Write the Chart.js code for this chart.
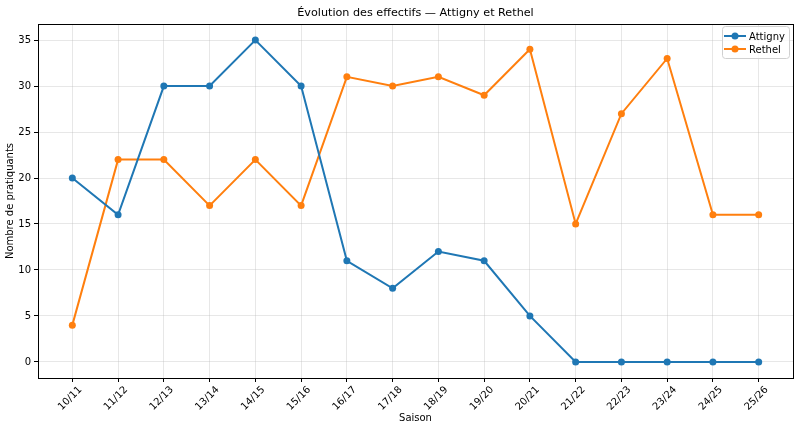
<!DOCTYPE html>
<html>
<head>
<meta charset="utf-8">
<script src="https://cdn.jsdelivr.net/npm/chart.js@4"></script>
<style>
    html, body { margin: 0; padding: 0; background: #fff; }
    #wrap { width: 799px; height: 430px; }
</style>
</head>
<body>
<div id="wrap"><canvas id="chart" width="799" height="430"></canvas></div>
<script>
    // Données
    const saisons = ['10/11', '11/12', '12/13', '13/14', '14/15', '15/16', '16/17', '17/18',
                     '18/19', '19/20', '20/21', '21/22', '22/23', '23/24', '24/25', '25/26'];
    const attigny = [20, 16, 30, 30, 35, 30, 11, 8, 12, 11, 5, 0, 0, 0, 0, 0];
    const rethel = [4, 22, 22, 17, 22, 17, 31, 30, 31, 29, 34, 15, 27, 33, 16, 16];
    const yTicks = [0, 5, 10, 15, 20, 25, 30, 35];

    const FONT = "'DejaVu Sans', sans-serif";

    function toPoints(values) {
        return values.map((v, i) => ({ x: i, y: v }));
    }

    // Cadre, titre et légende façon matplotlib
    const decor = {
        id: 'decor',
        afterDraw(chart) {
            const ctx = chart.ctx;
            const a = chart.chartArea;
            ctx.save();
            ctx.strokeStyle = '#000';
            ctx.lineWidth = 1;
            ctx.strokeRect(Math.round(a.left) + 0.5, Math.round(a.top) + 0.5,
                           Math.round(a.right - a.left), Math.round(a.bottom - a.top));

            // Titre
            ctx.fillStyle = '#000';
            ctx.font = '11.2px ' + FONT;
            ctx.textAlign = 'center';
            ctx.textBaseline = 'middle';
            ctx.fillText('Évolution des effectifs — Attigny et Rethel', (a.left + a.right) / 2, 13);

            // Légende
            const sets = chart.data.datasets;
            const boxW = 67, rowH = 13;
            const bx = a.right - boxW - 4, by = a.top + 2;
            const boxH = sets.length * rowH + 6;
            ctx.fillStyle = 'rgba(255,255,255,0.8)';
            ctx.strokeStyle = '#d0d0d0';
            ctx.lineWidth = 1;
            ctx.beginPath();
            ctx.roundRect(bx + 0.5, by + 0.5, boxW, boxH, 3);
            ctx.fill();
            ctx.stroke();
            ctx.font = '10px ' + FONT;
            ctx.textAlign = 'left';
            sets.forEach((ds, i) => {
                const cy = by + 10 + i * rowH;
                ctx.strokeStyle = ds.borderColor;
                ctx.lineWidth = 2;
                ctx.beginPath();
                ctx.moveTo(bx + 2, cy);
                ctx.lineTo(bx + 24, cy);
                ctx.stroke();
                ctx.fillStyle = ds.borderColor;
                ctx.beginPath();
                ctx.arc(bx + 13, cy, 3.5, 0, Math.PI * 2);
                ctx.fill();
                ctx.fillStyle = '#000';
                ctx.fillText(ds.label, bx + 27, cy + 1);
            });
            ctx.restore();
        }
    };

    new Chart(document.getElementById('chart'), {
        type: 'line',
        data: {
            datasets: [
                {
                    label: 'Attigny',
                    data: toPoints(attigny),
                    borderColor: '#1f77b4',
                    backgroundColor: '#1f77b4',
                    borderWidth: 2,
                    pointRadius: 3.5,
                    pointHoverRadius: 3.5,
                    pointBorderWidth: 0,
                    tension: 0
                },
                {
                    label: 'Rethel',
                    data: toPoints(rethel),
                    borderColor: '#ff7f0e',
                    backgroundColor: '#ff7f0e',
                    borderWidth: 2,
                    pointRadius: 3.5,
                    pointHoverRadius: 3.5,
                    pointBorderWidth: 0,
                    tension: 0
                }
            ]
        },
        options: {
            responsive: false,
            animation: false,
            layout: { padding: { top: 24, right: 6, left: 0, bottom: 0 } },
            plugins: {
                legend: { display: false },
                title: { display: false },
                tooltip: { enabled: false }
            },
            scales: {
                x: {
                    type: 'linear',
                    min: -0.75,
                    max: saisons.length - 0.25,
                    afterBuildTicks(scale) {
                        scale.ticks = saisons.map((s, i) => ({ value: i }));
                    },
                    afterFit(scale) { scale.height = 52; },
                    grid: {
                        color: 'rgba(176,176,176,0.3)',
                        tickColor: '#000',
                        tickLength: 4,
                        lineWidth: 1
                    },
                    border: { color: '#000', width: 1 },
                    ticks: {
                        callback: (v) => saisons[v],
                        minRotation: 45,
                        maxRotation: 45,
                        autoSkip: false,
                        labelOffset: 8,
                        padding: 2,
                        color: '#000',
                        font: { family: FONT, size: 10 }
                    },
                    title: {
                        display: true,
                        text: 'Saison',
                        color: '#000',
                        padding: { top: 0, bottom: 6 },
                        font: { family: FONT, size: 10 }
                    }
                },
                y: {
                    min: -1.75,
                    max: 36.75,
                    afterBuildTicks(scale) {
                        scale.ticks = yTicks.map(v => ({ value: v }));
                    },
                    afterFit(scale) { scale.width = 38; },
                    grid: {
                        color: 'rgba(176,176,176,0.3)',
                        tickColor: '#000',
                        tickLength: 4,
                        lineWidth: 1
                    },
                    border: { color: '#000', width: 1 },
                    ticks: {
                        padding: 3,
                        color: '#000',
                        font: { family: FONT, size: 10 }
                    },
                    title: {
                        display: true,
                        text: 'Nombre de pratiquants',
                        color: '#000',
                        padding: { top: 4, bottom: 0 },
                        font: { family: FONT, size: 10 }
                    }
                }
            }
        },
        plugins: [decor]
    });
</script>
</body>
</html>
